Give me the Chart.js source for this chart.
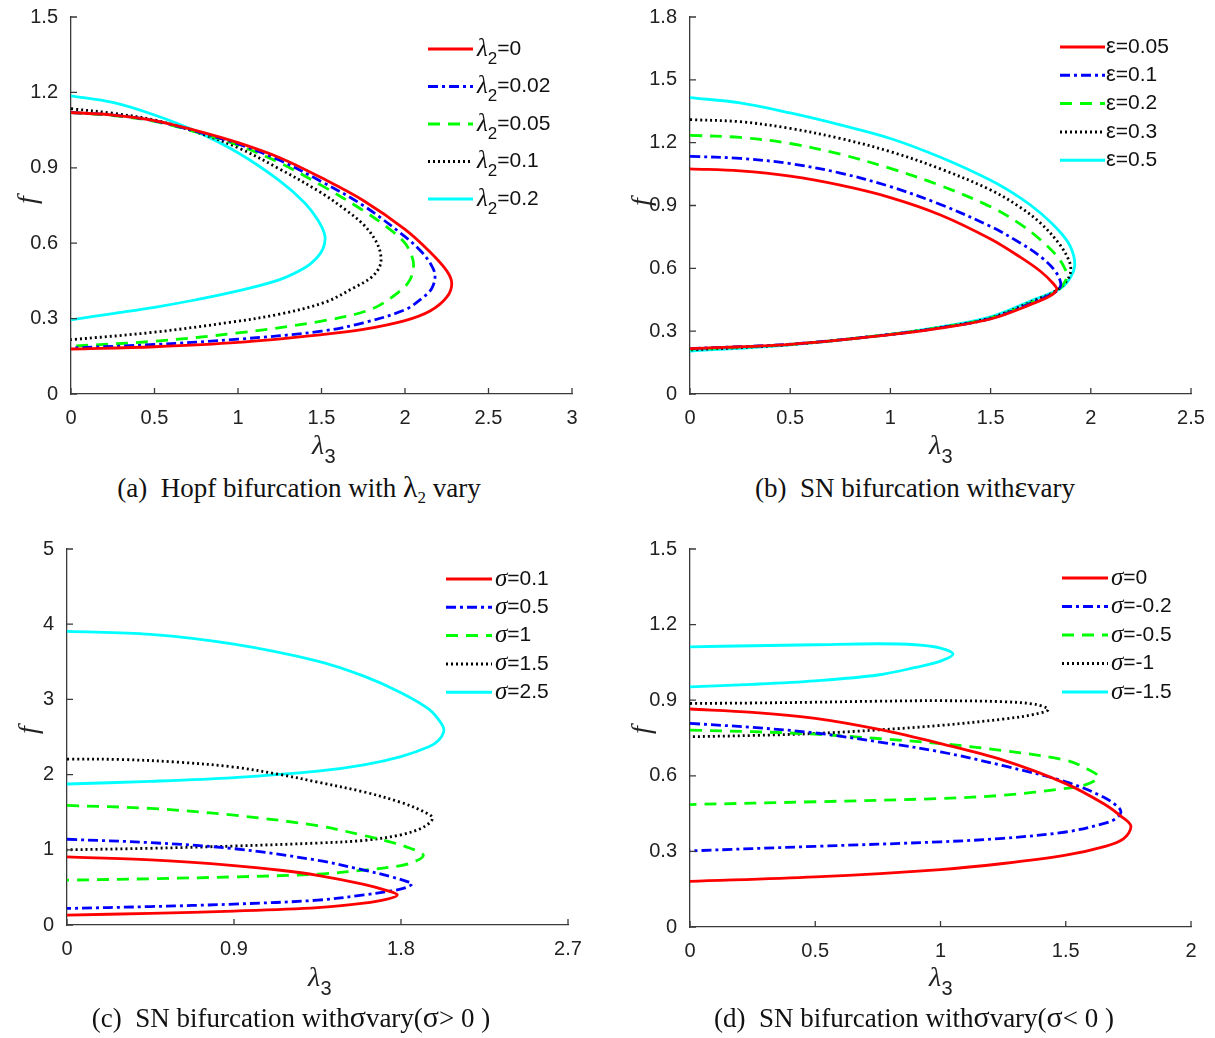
<!DOCTYPE html>
<html>
<head>
<meta charset="utf-8">
<script src="https://cdn.jsdelivr.net/npm/chart.js@4.4.0/dist/chart.umd.min.js"></script>
<style>
  body { margin: 0; background: #fff; }
  #wrap { position: relative; width: 1215px; height: 1038px; }
  canvas { position: absolute; }
  .cap { position: absolute; font-family: "Liberation Serif", serif; font-size: 27px; color: #111; white-space: pre; transform: translateX(-50%); }
  .cap sub { font-size: 17px; }
  .cap .g { font-size: 30px; }
</style>
</head>
<body>
<div id="wrap">
  <canvas id="chartA" width="605" height="470" style="left:0;top:0"></canvas>
  <canvas id="chartB" width="605" height="470" style="left:610px;top:0"></canvas>
  <canvas id="chartC" width="605" height="508" style="left:0;top:530px"></canvas>
  <canvas id="chartD" width="605" height="508" style="left:610px;top:530px"></canvas>
  <div class="cap" style="left:299px;top:470px">(a)  Hopf bifurcation with <span class="g">λ</span><sub>2</sub> vary</div>
  <div class="cap" style="left:915px;top:470px">(b)  SN bifurcation with<span class="g">ε</span>vary</div>
  <div class="cap" style="left:291px;top:1000px">(c)  SN bifurcation with<span class="g">σ</span>vary(<span class="g">σ</span>&gt; 0 )</div>
  <div class="cap" style="left:914px;top:1000px">(d)  SN bifurcation with<span class="g">σ</span>vary(<span class="g">σ</span>&lt; 0 )</div>
</div>
<script>
// ---- data: [lambda3, f] along each curve (upper branch, then lower) ----

// (a) Hopf, lambda2 varies
const lam2Values = ['0', '0.02', '0.05', '0.1', '0.2'];
const lam2Curves = [
  [[0,1.12],[0.25,1.11],[0.5,1.088],[0.75,1.048],[1.0,1.0],[1.25,0.94],[1.5,0.86],[1.75,0.77],[2.0,0.655],[2.15,0.565],[2.25,0.49],[2.28,0.44],[2.25,0.385],[2.15,0.33],[2.0,0.292],[1.75,0.257],[1.5,0.236],[1.0,0.205],[0.5,0.188],[0,0.179]],
  [[0,1.12],[0.25,1.11],[0.5,1.087],[0.75,1.045],[1.0,0.995],[1.25,0.93],[1.5,0.845],[1.75,0.75],[2.0,0.626],[2.1,0.565],[2.16,0.51],[2.18,0.47],[2.16,0.42],[2.1,0.38],[2.0,0.335],[1.75,0.283],[1.5,0.25],[1.0,0.218],[0.5,0.197],[0,0.183]],
  [[0,1.12],[0.25,1.108],[0.5,1.085],[0.75,1.042],[1.0,0.99],[1.25,0.92],[1.5,0.83],[1.75,0.73],[1.9,0.66],[2.0,0.6],[2.045,0.54],[2.05,0.5],[2.03,0.455],[1.98,0.415],[1.8,0.338],[1.5,0.29],[1.0,0.243],[0.5,0.21],[0,0.19]],
  [[0,1.135],[0.25,1.117],[0.5,1.09],[0.75,1.042],[1.0,0.98],[1.25,0.895],[1.5,0.8],[1.65,0.73],[1.75,0.675],[1.82,0.615],[1.853,0.56],[1.85,0.51],[1.8,0.465],[1.7,0.425],[1.52,0.365],[1.25,0.318],[0.95,0.285],[0.5,0.246],[0,0.216]],
  [[0,1.186],[0.25,1.16],[0.5,1.11],[0.75,1.045],[1.0,0.96],[1.25,0.848],[1.4,0.76],[1.48,0.69],[1.52,0.63],[1.51,0.58],[1.47,0.54],[1.4,0.502],[1.25,0.455],[1.0,0.41],[0.75,0.375],[0.5,0.345],[0.25,0.32],[0,0.295]]
];
const aXTicks = [0, 0.5, 1, 1.5, 2, 2.5, 3];
const aYTicks = [0, 0.3, 0.6, 0.9, 1.2, 1.5];

// (b) SN, epsilon varies
const epsValues = ['0.05', '0.1', '0.2', '0.3', '0.5'];
const epsCurves = [
  [[0,1.075],[0.25,1.065],[0.5,1.04],[0.75,0.997],[1.0,0.938],[1.25,0.855],[1.5,0.74],[1.65,0.652],[1.75,0.585],[1.81,0.53],[1.83,0.5],[1.8,0.47],[1.72,0.435],[1.5,0.358],[1.25,0.315],[1.0,0.283],[0.5,0.237],[0,0.217]],
  [[0,1.135],[0.25,1.125],[0.5,1.1],[0.75,1.055],[1.0,0.99],[1.25,0.905],[1.5,0.8],[1.65,0.72],[1.75,0.655],[1.82,0.59],[1.85,0.53],[1.84,0.5],[1.8,0.475],[1.72,0.44],[1.5,0.36],[1.25,0.316],[1.0,0.284],[0.5,0.238],[0,0.217]],
  [[0,1.235],[0.25,1.225],[0.5,1.196],[0.75,1.145],[1.0,1.077],[1.25,0.995],[1.5,0.894],[1.65,0.81],[1.75,0.735],[1.83,0.66],[1.87,0.6],[1.88,0.56],[1.86,0.52],[1.82,0.485],[1.72,0.443],[1.5,0.362],[1.25,0.318],[1.0,0.285],[0.5,0.237],[0,0.214]],
  [[0,1.31],[0.25,1.3],[0.5,1.268],[0.75,1.22],[1.0,1.157],[1.25,1.075],[1.5,0.974],[1.65,0.89],[1.75,0.815],[1.84,0.72],[1.89,0.64],[1.9,0.59],[1.88,0.54],[1.83,0.495],[1.72,0.447],[1.5,0.364],[1.25,0.318],[1.0,0.285],[0.5,0.236],[0,0.21]],
  [[0,1.415],[0.25,1.39],[0.5,1.342],[0.75,1.285],[1.0,1.22],[1.25,1.13],[1.5,1.02],[1.65,0.935],[1.75,0.863],[1.85,0.77],[1.9,0.7],[1.92,0.62],[1.9,0.56],[1.85,0.505],[1.72,0.452],[1.5,0.368],[1.25,0.32],[1.0,0.285],[0.5,0.235],[0,0.205]]
];
const bXTicks = [0, 0.5, 1, 1.5, 2, 2.5];
const bYTicks = [0, 0.3, 0.6, 0.9, 1.2, 1.5, 1.8];

// (c) SN, sigma > 0
const sigPosValues = ['0.1', '0.5', '1', '1.5', '2.5'];
const sigPosCurves = [
  [[0,0.905],[0.45,0.865],[0.9,0.79],[1.15,0.728],[1.35,0.66],[1.6,0.54],[1.72,0.46],[1.78,0.4],[1.72,0.34],[1.6,0.29],[1.35,0.232],[0.9,0.185],[0.45,0.155],[0,0.132]],
  [[0,1.14],[0.45,1.095],[0.9,1.015],[1.35,0.86],[1.6,0.73],[1.75,0.64],[1.83,0.58],[1.86,0.55],[1.83,0.5],[1.75,0.455],[1.6,0.4],[1.35,0.33],[0.9,0.278],[0.45,0.245],[0,0.22]],
  [[0,1.59],[0.45,1.55],[0.9,1.46],[1.35,1.32],[1.6,1.19],[1.75,1.1],[1.85,1.02],[1.92,0.93],[1.88,0.85],[1.8,0.79],[1.6,0.73],[1.35,0.676],[0.9,0.64],[0.45,0.615],[0,0.596]],
  [[0,2.207],[0.3,2.2],[0.6,2.165],[0.9,2.1],[1.15,2.0],[1.35,1.9],[1.6,1.77],[1.8,1.63],[1.92,1.51],[1.97,1.42],[1.92,1.3],[1.8,1.2],[1.6,1.125],[1.35,1.09],[0.9,1.05],[0.45,1.02],[0,1.0]],
  [[0,3.905],[0.45,3.865],[0.9,3.735],[1.35,3.51],[1.6,3.31],[1.8,3.09],[1.95,2.87],[2.02,2.67],[2.03,2.57],[2.0,2.45],[1.95,2.37],[1.8,2.24],[1.6,2.13],[1.35,2.045],[0.9,1.96],[0.45,1.91],[0,1.875]]
];
const cXTicks = [0, 0.9, 1.8, 2.7];
const cYTicks = [0, 1, 2, 3, 4, 5];

// (d) SN, sigma < 0
const sigNegValues = ['0', '-0.2', '-0.5', '-1', '-1.5'];
const sigNegCurves = [
  [[0,0.865],[0.25,0.852],[0.5,0.828],[0.75,0.785],[1.0,0.728],[1.25,0.662],[1.5,0.569],[1.65,0.49],[1.72,0.44],[1.76,0.4],[1.73,0.35],[1.65,0.318],[1.5,0.285],[1.25,0.252],[1.0,0.228],[0.5,0.199],[0,0.181]],
  [[0,0.808],[0.25,0.792],[0.5,0.77],[0.75,0.735],[1.0,0.695],[1.25,0.64],[1.5,0.576],[1.65,0.516],[1.71,0.475],[1.72,0.455],[1.7,0.43],[1.65,0.41],[1.5,0.377],[1.25,0.352],[1.0,0.338],[0.5,0.32],[0,0.302]],
  [[0,0.781],[0.25,0.775],[0.5,0.765],[0.75,0.748],[1.0,0.728],[1.25,0.7],[1.5,0.662],[1.58,0.63],[1.63,0.596],[1.58,0.565],[1.5,0.55],[1.25,0.523],[1.0,0.51],[0.5,0.497],[0,0.486]],
  [[0,0.887],[0.25,0.889],[0.5,0.892],[0.75,0.896],[1.0,0.898],[1.25,0.894],[1.38,0.883],[1.43,0.863],[1.38,0.845],[1.25,0.825],[1.0,0.8],[0.75,0.782],[0.5,0.768],[0.25,0.76],[0,0.755]],
  [[0,1.112],[0.25,1.116],[0.5,1.12],[0.75,1.124],[0.9,1.12],[1.0,1.107],[1.05,1.083],[1.0,1.055],[0.9,1.03],[0.75,1.0],[0.5,0.977],[0.25,0.963],[0,0.953]]
];
const dXTicks = [0, 0.5, 1, 1.5, 2];
const dYTicks = [0, 0.3, 0.6, 0.9, 1.2, 1.5];

// line styles in legend order: solid red, dash-dot blue, dashed green, dotted black, solid cyan
const colors = ['#ff0000', '#0000ff', '#00ff00', '#000000', '#00ffff'];
const dashes = [[], [10, 4, 3, 4], [12, 8], [2, 3], []];

const axisColor = '#3a3a3a';
const tickFont = { family: 'Liberation Sans', size: 20 };

// draws inward ticks, axis titles and the legend (legend has subscripts, so done by hand)
const decor = {
  id: 'decor',
  afterDraw(chart, args, o) {
    const ctx = chart.ctx;
    const a = chart.chartArea;
    const xs = chart.scales.x, ys = chart.scales.y;
    ctx.save();
    ctx.strokeStyle = axisColor;
    ctx.lineWidth = 1.3;
    ctx.setLineDash([]);
    ctx.beginPath();
    xs.ticks.forEach(t => {
      const p = xs.getPixelForValue(t.value);
      ctx.moveTo(p, a.bottom); ctx.lineTo(p, a.bottom - 6);
    });
    ys.ticks.forEach(t => {
      const p = ys.getPixelForValue(t.value);
      ctx.moveTo(a.left, p); ctx.lineTo(a.left + 6, p);
    });
    ctx.stroke();

    // axis titles
    ctx.fillStyle = '#222';
    ctx.textBaseline = 'middle';
    ctx.textAlign = 'center';
    ctx.save();
    ctx.translate(o.fPos[0], o.fPos[1]);
    ctx.rotate(-Math.PI / 2);
    ctx.font = 'italic 28px "Liberation Serif"';
    ctx.fillText('f', 0, 0);
    ctx.restore();
    ctx.font = 'italic 28px "Liberation Serif"';
    ctx.fillText('λ', o.lamPos[0] - 4, o.lamPos[1]);
    ctx.font = '20px "Liberation Sans"';
    ctx.fillText('3', o.lamPos[0] + 8, o.lamPos[1] + 10);

    // legend
    const L = o.legend;
    chart.data.datasets.forEach((ds, i) => {
      const y = L.y0 + i * L.dy;
      ctx.strokeStyle = ds.borderColor;
      ctx.lineWidth = 3;
      ctx.setLineDash(ds.borderDash || []);
      ctx.beginPath();
      ctx.moveTo(L.x0, y); ctx.lineTo(L.x1, y);
      ctx.stroke();
      ctx.setLineDash([]);
      ctx.textAlign = 'left';
      ctx.fillStyle = '#111';
      let x = L.tx;
      ctx.font = L.symFont;
      ctx.fillText(L.sym, x, y);
      x += ctx.measureText(L.sym).width;
      if (L.sub) {
        ctx.font = '17px "Liberation Sans"';
        ctx.fillText(L.sub, x, y + 10);
        x += ctx.measureText(L.sub).width;
      }
      ctx.font = '21px "Liberation Sans"';
      ctx.fillText('=' + L.values[i], x, y);
    });
    ctx.restore();
  }
};

function makeDatasets(curves, values) {
  return curves.map((pts, i) => ({
    label: values[i],
    data: pts.map(p => ({ x: p[0], y: p[1] })),
    borderColor: colors[i],
    borderDash: dashes[i],
    borderWidth: 2.8,
    pointRadius: 0,
    showLine: true,
    fill: false,
    tension: 0.35
  }));
}

function makeScale(ticks, fixedSize, horizontal) {
  const min = ticks[0], max = ticks[ticks.length - 1];
  return {
    type: 'linear',
    min: min,
    max: max,
    afterBuildTicks: s => { s.ticks = ticks.map(v => ({ value: v })); },
    afterFit: s => { if (horizontal) s.height = fixedSize; else s.width = fixedSize; },
    grid: { display: false },
    border: { display: true, color: axisColor, width: 1.3 },
    ticks: {
      font: tickFont,
      color: '#222',
      padding: horizontal ? 4 : 5,
      maxRotation: 0,
      autoSkip: false,
      callback: v => String(v)
    }
  };
}

function drawPanel(id, curves, values, p) {
  const canvas = document.getElementById(id);
  new Chart(canvas.getContext('2d'), {
    type: 'scatter',
    data: { datasets: makeDatasets(curves, values) },
    options: {
      responsive: false,
      animation: false,
      devicePixelRatio: 1,
      layout: { padding: { left: 0, top: p.area.top, right: canvas.width - p.area.right, bottom: 0 } },
      scales: {
        x: makeScale(p.xTicks, canvas.height - p.area.bottom, true),
        y: makeScale(p.yTicks, p.area.left, false)
      },
      plugins: {
        legend: { display: false },
        tooltip: { enabled: false },
        decor: { fPos: p.fPos, lamPos: p.lamPos, legend: p.legend }
      }
    },
    plugins: [decor]
  });
}

const serifItalic = 'italic 25px "Liberation Serif"';

drawPanel('chartA', lam2Curves, lam2Values, {
  area: { left: 71, top: 16, right: 572, bottom: 394 },
  xTicks: aXTicks, yTicks: aYTicks,
  fPos: [29, 200], lamPos: [322, 447],
  legend: { x0: 428, x1: 473, tx: 477, y0: 49, dy: 37.5, sym: 'λ', symFont: serifItalic, sub: '2', values: lam2Values }
});

drawPanel('chartB', epsCurves, epsValues, {
  area: { left: 80, top: 16, right: 581, bottom: 394 },
  xTicks: bXTicks, yTicks: bYTicks,
  fPos: [33, 202], lamPos: [329, 447],
  legend: { x0: 450, x1: 495, tx: 496, y0: 47, dy: 28.3, sym: 'ε', symFont: '22px "Liberation Sans"', sub: '', values: epsValues }
});

drawPanel('chartC', sigPosCurves, sigPosValues, {
  area: { left: 67, top: 19, right: 568, bottom: 395 },
  xTicks: cXTicks, yTicks: cYTicks,
  fPos: [30, 200], lamPos: [318, 449],
  legend: { x0: 446, x1: 492, tx: 495, y0: 49, dy: 28.3, sym: 'σ', symFont: serifItalic, sub: '', values: sigPosValues }
});

drawPanel('chartD', sigNegCurves, sigNegValues, {
  area: { left: 80, top: 19, right: 581, bottom: 397 },
  xTicks: dXTicks, yTicks: dYTicks,
  fPos: [33, 200], lamPos: [329, 449],
  legend: { x0: 452, x1: 498, tx: 501, y0: 48, dy: 28.5, sym: 'σ', symFont: serifItalic, sub: '', values: sigNegValues }
});
</script>
</body>
</html>
